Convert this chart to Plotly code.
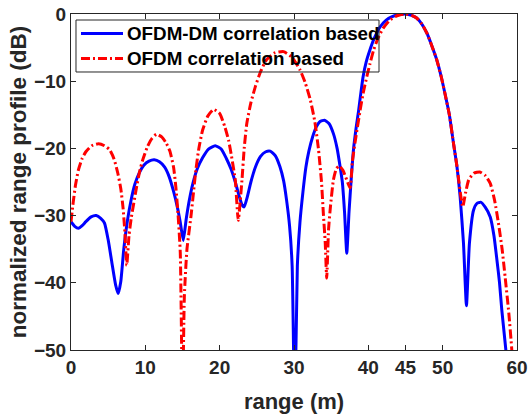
import plotly.graph_objects as go

# OFDM-DM correlation based (blue, solid)
dm_x = [0, 0.5, 1.0, 1.5, 2.0, 2.7, 3.4, 4.0, 4.5, 5.0, 5.5, 6.0, 6.35, 6.7, 7.1, 7.6,
        8.1, 8.6, 9.2, 9.8, 10.5, 11.2, 11.9, 12.6, 13.2, 13.8, 14.3, 14.7, 15.1, 15.5,
        15.9, 16.4, 17.0, 17.7, 18.5, 19.4, 20.2, 20.9, 21.5, 22.1, 22.65, 23.0, 23.3,
        23.7, 24.2, 24.8, 25.5, 26.2, 26.8, 27.5, 28.1, 28.6, 29.0, 29.4, 29.75, 30.1,
        30.45, 30.8, 31.2, 31.6, 32.0, 32.5, 33.0, 33.5, 34.1, 34.7, 35.3, 35.8, 36.2,
        36.5, 36.8, 37.1, 37.4, 37.7, 38.0, 38.4, 38.7, 39.0, 39.3, 39.7, 40.2, 40.8,
        41.6, 42.4, 43.2, 44.0, 45.0, 45.8, 46.5, 47.2, 47.9, 48.5, 49.2, 49.8, 50.3,
        50.9, 51.45, 51.9, 52.35, 52.8, 53.2, 53.6, 54.15, 54.6, 55.1, 55.7, 56.4, 56.9,
        57.3, 57.65, 57.95, 58.5, 58.9]
dm_y = [-30.9, -31.6, -31.9, -31.5, -30.9, -30.2, -30.0, -30.4, -31.1, -33.6, -37.0,
        -40.3, -41.6, -39.8, -35.0, -30.7, -27.6, -25.3, -23.6, -22.5, -21.9, -21.7,
        -22.0, -22.8, -24.2, -26.4, -28.7, -31.0, -33.7, -30.5, -27.8, -25.2, -23.0,
        -21.4, -20.1, -19.6, -20.1, -21.5, -23.0, -25.0, -27.2, -28.4, -28.7, -27.3,
        -25.0, -22.8, -21.2, -20.5, -20.4, -21.1, -22.7, -24.8, -27.7, -31.5, -37.5,
        -60.0, -37.5, -31.0, -26.5, -22.8, -20.4, -18.3, -16.8, -16.0, -15.8, -16.3,
        -17.8, -20.0, -22.7, -25.0, -29.5, -35.6, -29.5, -24.5, -20.2, -16.6, -14.3,
        -11.7, -9.3, -7.2, -5.4, -3.6, -1.9, -0.9, -0.4, -0.1, 0.0, -0.2, -0.6, -1.5,
        -2.9, -4.6, -6.8, -9.3, -11.8, -15.0, -19.2, -22.5, -27.2, -34.1, -43.4, -34.1,
        -29.2, -28.2, -28.0, -28.7, -30.2, -33.0, -36.6, -40.0, -44.0, -50.0, -56.0]

# OFDM correlation based (red, dash-dot)
ofdm_x = [0, 0.3, 0.6, 1.0, 1.5, 2.0, 2.8, 3.7, 4.5, 5.2, 5.8, 6.3, 6.7, 7.0, 7.25, 7.5,
          7.8, 8.1, 8.75, 9.2, 9.65, 10.3, 10.9, 11.5, 12.2, 12.8, 13.3, 13.8, 14.1,
          14.4, 14.7, 15.0, 15.25, 15.6, 16.15, 16.8, 17.2, 17.7, 18.4, 19.2, 20.0,
          20.7, 21.2, 21.6, 22.1, 22.5, 23.0, 23.3, 23.65, 24.2, 24.8, 25.5, 26.3, 27.4,
          28.6, 29.7, 30.8, 31.5, 32.2, 32.8, 33.3, 33.7, 33.95, 34.2, 34.4, 34.65, 34.9,
          35.3, 35.7, 36.1, 36.6, 37.1, 37.55, 37.85, 38.2, 38.9, 39.3, 39.8, 40.2, 40.7,
          41.3, 42.0, 42.8, 43.6, 44.3, 45.0, 45.8, 46.5, 47.2, 47.9, 48.5, 49.2, 49.8,
          50.3, 50.9, 51.45, 51.9, 52.1, 52.4, 52.7, 53.1, 53.5, 54.2, 55.0, 55.7, 56.4,
          57.0, 57.5, 58.0, 58.4, 58.9, 59.3, 59.6]
ofdm_y = [-30.9, -28.0, -25.5, -23.2, -21.5, -20.5, -19.6, -19.3, -19.6, -20.2, -21.6,
          -23.7, -26.0, -28.8, -32.5, -37.4, -33.0, -30.4, -26.2, -23.6, -21.7, -19.7,
          -18.5, -17.9, -18.3, -19.2, -20.4, -22.8, -25.7, -29.8, -35.5, -58.0, -42.0,
          -35.0, -30.0, -23.2, -20.0, -17.3, -15.2, -14.2, -14.8, -16.8, -18.8, -21.2,
          -24.7, -30.7, -24.7, -20.0, -16.3, -13.2, -10.8, -8.6, -6.8, -5.8, -5.6, -6.4,
          -8.3, -10.2, -12.8, -16.0, -20.2, -25.0, -29.7, -34.0, -39.3, -32.0, -28.7,
          -24.7, -23.0, -22.6, -23.3, -24.7, -25.9, -22.0, -19.2, -14.3, -11.8, -9.3,
          -7.5, -5.4, -3.6, -2.1, -1.0, -0.4, -0.1, 0.0, -0.2, -0.6, -1.5, -2.9, -4.6,
          -6.8, -9.3, -11.8, -15.0, -19.2, -22.5, -24.2, -26.8, -28.7, -26.5, -24.7,
          -23.7, -23.5, -24.0, -25.2, -27.8, -31.1, -35.0, -39.1, -44.5, -50.0, -56.0]

series_names = ["OFDM-DM correlation based", "OFDM correlation based"]
x_ticks = [0, 10, 20, 30, 40, 45, 50, 60]
y_ticks = [0, -10, -20, -30, -40, -50]

font = "Liberation Sans, Arial, sans-serif"
ink = "#262626"
colors = ["#0000ff", "#ff0000"]
dashes = ["solid", "9px,3px,2px,3px"]

fig = go.Figure()
fig.add_trace(go.Scatter(x=dm_x, y=dm_y, mode="lines", name=series_names[0],
                         line=dict(color=colors[0], width=3, shape="spline", smoothing=0.5)))
fig.add_trace(go.Scatter(x=ofdm_x, y=ofdm_y, mode="lines", name=series_names[1],
                         line=dict(color=colors[1], width=3, dash=dashes[1],
                                   shape="spline", smoothing=0.5)))

axis_style = dict(showline=True, linecolor=ink, linewidth=1, mirror="ticks",
                  ticks="inside", ticklen=5, tickcolor=ink, showgrid=False,
                  zeroline=False, automargin=False,
                  tickfont=dict(family=font, size=19, color=ink, weight="bold"))

fig.update_xaxes(range=[0, 60], tickvals=x_ticks,
                 title=dict(text="range (m)", font=dict(family=font, size=22, color=ink,
                                                         weight="bold"), standoff=16),
                 **axis_style)
fig.update_yaxes(range=[-50, 0], tickvals=y_ticks,
                 title=dict(text="normalized range profile (dB)",
                            font=dict(family=font, size=22.5, color=ink, weight="bold"),
                            standoff=1),
                 **axis_style)

# legend drawn by hand (MATLAB-style box, transparent, tight rows)
fig.add_shape(type="rect", xref="paper", yref="paper", x0=0.0112, x1=0.6906,
              y0=0.8274, y1=0.9821, line=dict(color=ink, width=1), fillcolor="rgba(0,0,0,0)")
for i, ypos in enumerate([0.942, 0.8676]):
    fig.add_shape(type="line", xref="paper", yref="paper", x0=0.0224, x1=0.1166,
                  y0=ypos, y1=ypos, line=dict(color=colors[i], width=3, dash=dashes[i]))
    fig.add_annotation(xref="paper", yref="paper", x=0.1211, y=ypos, xanchor="left",
                       yanchor="middle", text=series_names[i], showarrow=False,
                       font=dict(family=font, size=18.8, color="black", weight="bold"))

fig.update_layout(
    width=528, height=414,
    margin=dict(l=71, r=11, t=14, b=64),
    plot_bgcolor="white", paper_bgcolor="white",
    showlegend=False,
)

fig.write_html("out.html", config={"displayModeBar": False},
               post_script="document.body.style.margin='0';")
